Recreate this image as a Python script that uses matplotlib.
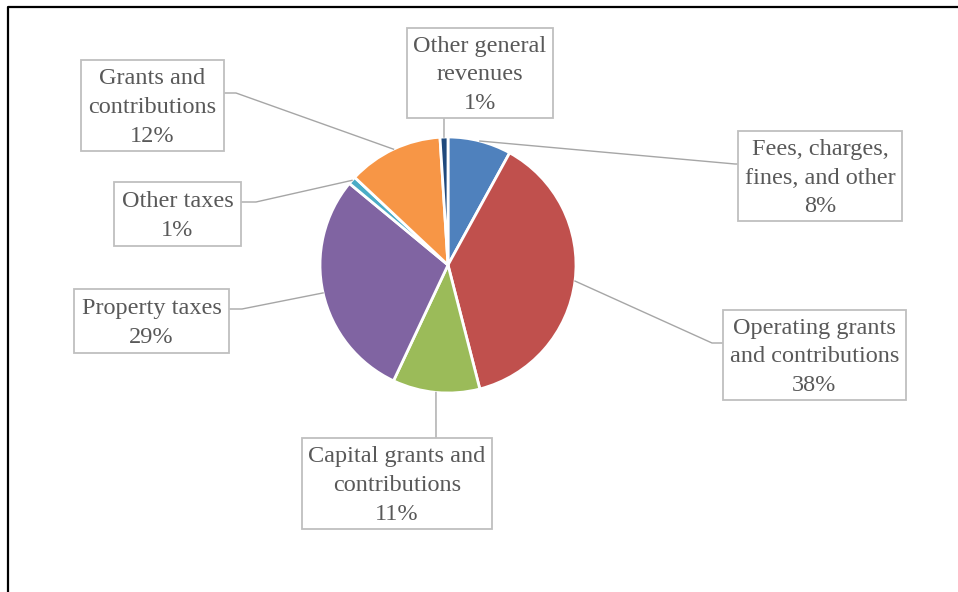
import matplotlib.pyplot as plt
from matplotlib.patches import Rectangle
import numpy as np

W, H = 958, 592

categories = ['Fees, charges,\nfines, and other', 'Operating grants\nand contributions',
              'Capital grants and\ncontributions', 'Property taxes', 'Other taxes',
              'Grants and\ncontributions', 'Other general\nrevenues']
shares = [8, 38, 11, 29, 1, 12, 1]
colors = ['#4F81BD', '#C0504D', '#9BBB59', '#8064A2', '#4BACC6', '#F79646', '#1F497D']

# label boxes in pixel coords (left, top, right, bottom) and leader elbows
boxes = [(738, 131, 902, 221), (723, 310, 906, 400), (302, 438, 492, 529),
         (74, 289, 229, 353), (114, 182, 241, 246), (81, 60, 224, 151),
         (407, 28, 553, 118)]
elbows = [[(735, 164), (738, 164)],
          [(712, 343), (723, 343)],
          [(436, 438)],
          [(242, 309), (229, 309)],
          [(256, 202), (241, 202)],
          [(236, 93), (224, 93)],
          [(444, 118)]]

cx, cy, r = 448, 265, 128

fig = plt.figure(figsize=(W / 100, H / 100), dpi=100)
ax = fig.add_axes([0, 0, 1, 1])

wedges, _ = ax.pie(shares, colors=colors, startangle=90, counterclock=False,
                   center=(cx, H - cy), radius=r,
                   wedgeprops=dict(edgecolor='white', linewidth=2))

for w, label, val, box, elb in zip(wedges, categories, shares, boxes, elbows):
    mid = np.deg2rad((w.theta1 + w.theta2) / 2)
    x0 = cx + r * np.cos(mid)
    y0 = (H - cy) + r * np.sin(mid)
    xs = [x0] + [p[0] for p in elb]
    ys = [y0] + [H - p[1] for p in elb]
    ax.plot(xs, ys, color='#A6A6A6', lw=1.0, zorder=1)
    l, t, rr, b = box
    ax.add_patch(Rectangle((l, H - b), rr - l, b - t, facecolor='white',
                           edgecolor='#BFBFBF', lw=1.3, zorder=3))
    ax.text((l + rr) / 2, H - (t + b) / 2 - 2, f'{label}\n{val}%', ha='center', va='center',
            fontsize=17.5, family='Liberation Serif', color='#595959',
            linespacing=1.47, zorder=4)

# outer frame (cut off at right and bottom)
ax.plot([8.5, 8.5, W + 5], [-5, H - 6.5, H - 6.5], color='black', lw=1.6, clip_on=False)

ax.set_xlim(0, W)
ax.set_ylim(0, H)
ax.set_aspect('auto')
ax.axis('off')

fig.savefig('out.png', dpi=100)
